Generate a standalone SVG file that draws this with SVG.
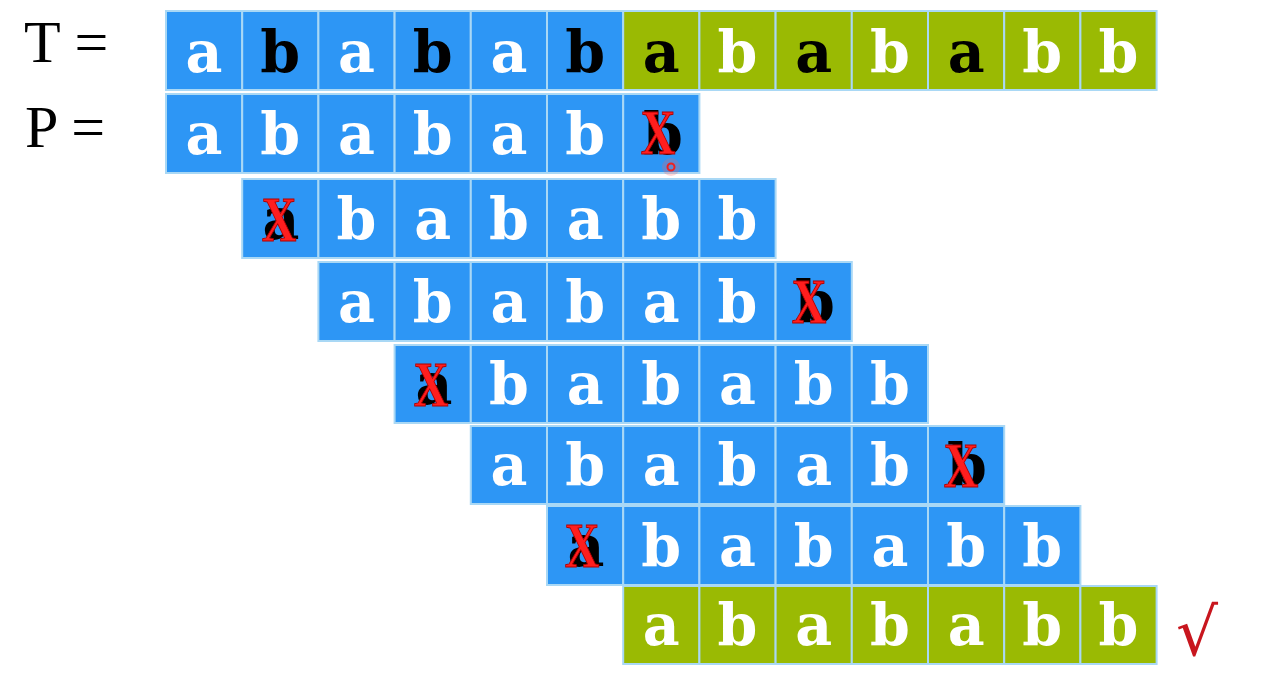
<svg xmlns="http://www.w3.org/2000/svg" width="1278" height="680" viewBox="0 0 1278 680">
<style>
.c{stroke:#a9d8f5;stroke-width:2}
.bl{fill:#2d96f5}
.gr{fill:#9aba03}
.t{font-family:"DejaVu Serif","Liberation Serif",serif;font-weight:bold;font-size:57px;text-anchor:middle}
.w{fill:#ffffff}
.k{fill:#000000}
.x{font-family:"Liberation Serif",serif;font-weight:bold;font-size:64px;text-anchor:middle;fill:#ff1e1e;stroke:#b00000;stroke-width:1}
.lab{font-family:"Liberation Serif",serif;font-size:60px;fill:#000}
</style>
<rect width="1278" height="680" fill="#ffffff"/>
<g id="labels">
<text class="lab" x="24" y="62">T =</text>
<text class="lab" x="25" y="147">P =</text>
</g>
<g id="rowT">
<rect class="c bl" x="166" y="11" width="76.2" height="79"/><text class="t w" x="204" y="72">a</text>
<rect class="c bl" x="242.2" y="11" width="76.2" height="79"/><text class="t k" x="280.3" y="72">b</text>
<rect class="c bl" x="318.4" y="11" width="76.2" height="79"/><text class="t w" x="356.5" y="72">a</text>
<rect class="c bl" x="394.6" y="11" width="76.2" height="79"/><text class="t k" x="432.7" y="72">b</text>
<rect class="c bl" x="470.8" y="11" width="76.2" height="79"/><text class="t w" x="508.9" y="72">a</text>
<rect class="c bl" x="547" y="11" width="76.2" height="79"/><text class="t k" x="585.1" y="72">b</text>
<rect class="c gr" x="623.2" y="11" width="76.2" height="79"/><text class="t k" x="661.3" y="72">a</text>
<rect class="c gr" x="699.4" y="11" width="76.2" height="79"/><text class="t w" x="737.5" y="72">b</text>
<rect class="c gr" x="775.6" y="11" width="76.2" height="79"/><text class="t k" x="813.7" y="72">a</text>
<rect class="c gr" x="851.8" y="11" width="76.2" height="79"/><text class="t w" x="889.9" y="72">b</text>
<rect class="c gr" x="928" y="11" width="76.2" height="79"/><text class="t k" x="966.1" y="72">a</text>
<rect class="c gr" x="1004.2" y="11" width="76.2" height="79"/><text class="t w" x="1042.3" y="72">b</text>
<rect class="c gr" x="1080.4" y="11" width="76.2" height="79"/><text class="t w" x="1118.5" y="72">b</text>
</g>
<g id="row1">
<rect class="c bl" x="166" y="94" width="76.2" height="79"/><text class="t w" x="204" y="154">a</text>
<rect class="c bl" x="242.2" y="94" width="76.2" height="79"/><text class="t w" x="280.3" y="154">b</text>
<rect class="c bl" x="318.4" y="94" width="76.2" height="79"/><text class="t w" x="356.5" y="154">a</text>
<rect class="c bl" x="394.6" y="94" width="76.2" height="79"/><text class="t w" x="432.7" y="154">b</text>
<rect class="c bl" x="470.8" y="94" width="76.2" height="79"/><text class="t w" x="508.9" y="154">a</text>
<rect class="c bl" x="547" y="94" width="76.2" height="79"/><text class="t w" x="585.1" y="154">b</text>
<rect class="c bl" x="623.2" y="94" width="76.2" height="79"/><text class="t k" x="663" y="154">b</text>
<text class="x" x="658" y="154" transform="translate(658 0) scale(0.75 1) translate(-658 0)">X</text>
<circle cx="671" cy="167" r="9" fill="#ff6060" opacity="0.25"/>
<circle cx="671" cy="167" r="3.5" fill="none" stroke="#ee2020" stroke-width="2"/>
</g>
<g id="row2">
<rect class="c bl" x="242.2" y="179" width="76.2" height="79"/><text class="t k" x="281" y="239">a</text>
<text class="x" x="279" y="241" transform="translate(279 0) scale(0.75 1) translate(-279 0)">X</text>
<rect class="c bl" x="318.4" y="179" width="76.2" height="79"/><text class="t w" x="356.5" y="239">b</text>
<rect class="c bl" x="394.6" y="179" width="76.2" height="79"/><text class="t w" x="432.7" y="239">a</text>
<rect class="c bl" x="470.8" y="179" width="76.2" height="79"/><text class="t w" x="508.9" y="239">b</text>
<rect class="c bl" x="547" y="179" width="76.2" height="79"/><text class="t w" x="585.1" y="239">a</text>
<rect class="c bl" x="623.2" y="179" width="76.2" height="79"/><text class="t w" x="661.3" y="239">b</text>
<rect class="c bl" x="699.4" y="179" width="76.2" height="79"/><text class="t w" x="737.5" y="239">b</text>
</g>
<g id="row3">
<rect class="c bl" x="318.4" y="262" width="76.2" height="79"/><text class="t w" x="356.5" y="322">a</text>
<rect class="c bl" x="394.6" y="262" width="76.2" height="79"/><text class="t w" x="432.7" y="322">b</text>
<rect class="c bl" x="470.8" y="262" width="76.2" height="79"/><text class="t w" x="508.9" y="322">a</text>
<rect class="c bl" x="547" y="262" width="76.2" height="79"/><text class="t w" x="585.1" y="322">b</text>
<rect class="c bl" x="623.2" y="262" width="76.2" height="79"/><text class="t w" x="661.3" y="322">a</text>
<rect class="c bl" x="699.4" y="262" width="76.2" height="79"/><text class="t w" x="737.5" y="322">b</text>
<rect class="c bl" x="775.6" y="262" width="76.2" height="79"/><text class="t k" x="815" y="322">b</text>
<text class="x" x="809" y="323" transform="translate(809 0) scale(0.75 1) translate(-809 0)">X</text>
</g>
<g id="row4">
<rect class="c bl" x="394.6" y="345" width="76.2" height="78"/><text class="t k" x="434" y="404">a</text>
<text class="x" x="431" y="406" transform="translate(431 0) scale(0.75 1) translate(-431 0)">X</text>
<rect class="c bl" x="470.8" y="345" width="76.2" height="78"/><text class="t w" x="508.9" y="404">b</text>
<rect class="c bl" x="547" y="345" width="76.2" height="78"/><text class="t w" x="585.1" y="404">a</text>
<rect class="c bl" x="623.2" y="345" width="76.2" height="78"/><text class="t w" x="661.3" y="404">b</text>
<rect class="c bl" x="699.4" y="345" width="76.2" height="78"/><text class="t w" x="737.5" y="404">a</text>
<rect class="c bl" x="775.6" y="345" width="76.2" height="78"/><text class="t w" x="813.7" y="404">b</text>
<rect class="c bl" x="851.8" y="345" width="76.2" height="78"/><text class="t w" x="889.9" y="404">b</text>
</g>
<g id="row5">
<rect class="c bl" x="470.8" y="426" width="76.2" height="78"/><text class="t w" x="508.9" y="485">a</text>
<rect class="c bl" x="547" y="426" width="76.2" height="78"/><text class="t w" x="585.1" y="485">b</text>
<rect class="c bl" x="623.2" y="426" width="76.2" height="78"/><text class="t w" x="661.3" y="485">a</text>
<rect class="c bl" x="699.4" y="426" width="76.2" height="78"/><text class="t w" x="737.5" y="485">b</text>
<rect class="c bl" x="775.6" y="426" width="76.2" height="78"/><text class="t w" x="813.7" y="485">a</text>
<rect class="c bl" x="851.8" y="426" width="76.2" height="78"/><text class="t w" x="889.9" y="485">b</text>
<rect class="c bl" x="928" y="426" width="76.2" height="78"/><text class="t k" x="967" y="485">b</text>
<text class="x" x="961" y="487" transform="translate(961 0) scale(0.75 1) translate(-961 0)">X</text>
</g>
<g id="row6">
<rect class="c bl" x="547" y="506" width="76.2" height="79"/><text class="t k" x="586" y="566">a</text>
<text class="x" x="582" y="567" transform="translate(582 0) scale(0.75 1) translate(-582 0)">X</text>
<rect class="c bl" x="623.2" y="506" width="76.2" height="79"/><text class="t w" x="661.3" y="566">b</text>
<rect class="c bl" x="699.4" y="506" width="76.2" height="79"/><text class="t w" x="737.5" y="566">a</text>
<rect class="c bl" x="775.6" y="506" width="76.2" height="79"/><text class="t w" x="813.7" y="566">b</text>
<rect class="c bl" x="851.8" y="506" width="76.2" height="79"/><text class="t w" x="889.9" y="566">a</text>
<rect class="c bl" x="928" y="506" width="76.2" height="79"/><text class="t w" x="966.1" y="566">b</text>
<rect class="c bl" x="1004.2" y="506" width="76.2" height="79"/><text class="t w" x="1042.3" y="566">b</text>
</g>
<g id="row7">
<rect class="c gr" x="623.2" y="586" width="76.2" height="78"/><text class="t w" x="661.3" y="645">a</text>
<rect class="c gr" x="699.4" y="586" width="76.2" height="78"/><text class="t w" x="737.5" y="645">b</text>
<rect class="c gr" x="775.6" y="586" width="76.2" height="78"/><text class="t w" x="813.7" y="645">a</text>
<rect class="c gr" x="851.8" y="586" width="76.2" height="78"/><text class="t w" x="889.9" y="645">b</text>
<rect class="c gr" x="928" y="586" width="76.2" height="78"/><text class="t w" x="966.1" y="645">a</text>
<rect class="c gr" x="1004.2" y="586" width="76.2" height="78"/><text class="t w" x="1042.3" y="645">b</text>
<rect class="c gr" x="1080.4" y="586" width="76.2" height="78"/><text class="t w" x="1118.5" y="645">b</text>
</g>
<g id="check">
<text x="1176" y="655" font-family="DejaVu Sans, sans-serif" font-size="66" fill="#c8161e">√</text>
</g>
</svg>
